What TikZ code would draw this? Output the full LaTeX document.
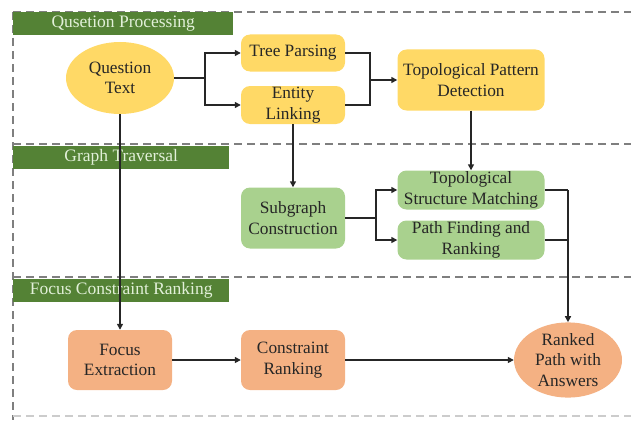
\documentclass[tikz,border=0pt]{standalone}
\usepackage{fontspec}
\setmainfont{Liberation Serif}
\usetikzlibrary{shapes.geometric,arrows.meta}
\definecolor{yel}{HTML}{FFD966}
\definecolor{lgreen}{HTML}{A9D18E}
\definecolor{orng}{HTML}{F4B183}
\definecolor{dgreen}{HTML}{548235}
\definecolor{htext}{HTML}{E2F0D9}
\definecolor{dashgray}{HTML}{7F7F7F}
\begin{document}
\begin{tikzpicture}[x=1pt,y=-1pt,
  txt/.style={font=\fontsize{17.3}{20.5}\selectfont, text=black!85, align=center, inner sep=1pt},
  box/.style={txt, rounded corners=9pt, minimum width=104pt},
  ell/.style={txt, ellipse, inner sep=0pt},
  hdr/.style={fill=dgreen, text=htext, font=\fontsize{17.5}{20}\selectfont, anchor=north west, minimum height=23pt, inner sep=0pt},
  frame/.style={dashgray, line width=1.4pt, dash pattern=on 8pt off 5pt},
  conn/.style={line width=1.4pt, black!85},
  arr/.style={conn, -{Triangle[length=6pt,width=6pt]}}
]
\useasboundingbox (0,0) rectangle (631,420);
% frames
\draw[frame] (13,12) -- (631,12);
\draw[frame] (13,144) -- (631,144);
\draw[frame] (13,277) -- (631,277);
\draw[frame] (13,12) -- (13,420);
\draw[frame, dashgray!40] (13,416) -- (631,416);
% headers
\node[hdr, minimum width=220pt] (h1) at (13,12) {Qusetion Processing};
\node[hdr, minimum width=216pt] (h2) at (13,146) {Graph Traversal};
\node[hdr, minimum width=216pt] (h3) at (13,279) {Focus Constraint Ranking};
% nodes
\node[ell, fill=yel, minimum width=108pt, minimum height=72pt] (qt) at (120,78) {Question\\Text};
\node[box, fill=yel, minimum height=37pt] (tp) at (293,53) {Tree Parsing};
\node[box, fill=yel, minimum height=38pt] (el) at (293,105) {Entity\\Linking};
\node[box, fill=yel, minimum width=147pt, minimum height=61pt] (tpd) at (471,80) {Topological Pattern\\Detection};
\node[box, fill=lgreen, minimum height=61pt] (sc) at (293,218) {Subgraph\\Construction};
\node[box, fill=lgreen, minimum width=147pt, minimum height=39pt] (tsm) at (471,190) {Topological\\Structure Matching};
\node[box, fill=lgreen, minimum width=147pt, minimum height=39pt] (pfr) at (471,240) {Path Finding and\\Ranking};
\node[box, fill=orng, minimum height=60pt] (fe) at (120,360) {Focus\\Extraction};
\node[box, fill=orng, minimum height=60pt] (cr) at (293,360) {Constraint\\Ranking};
\node[ell, fill=orng, minimum width=108pt, minimum height=71pt] (rpa) at (568,360) {Ranked\\Path with\\Answers};
% connectors
\coordinate (b1) at (205,78);
\draw[conn] (qt.east) -- (b1);
\draw[arr] (b1) |- (tp.west);
\draw[arr] (b1) |- (el.west);
\coordinate (b2) at (370,80);
\draw[conn] (tp.east) -| (b2);
\draw[conn] (el.east) -| (b2);
\draw[arr] (b2) -- (tpd.west);
\draw[arr] (el.south) -- (sc.north);
\draw[arr] (tpd.south) -- (tsm.north);
\coordinate (b3) at (376,218);
\draw[conn] (sc.east) -- (b3);
\draw[arr] (b3) |- (tsm.west);
\draw[arr] (b3) |- (pfr.west);
\coordinate (b4) at (568,190);
\draw[conn] (tsm.east) -- (b4);
\draw[conn] (pfr.east) -| (b4);
\draw[arr] (b4) -- (rpa.north);
\draw[arr] (qt.south) -- (fe.north);
\draw[arr] (fe.east) -- (cr.west);
\draw[arr] (cr.east) -- (rpa.west);
\end{tikzpicture}
\end{document}
